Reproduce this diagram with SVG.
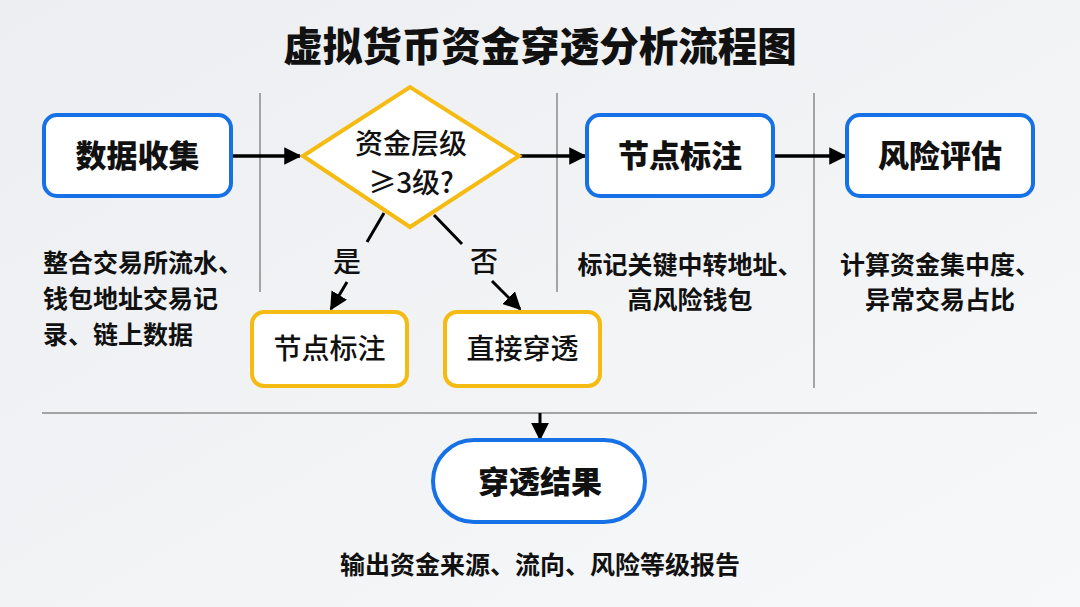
<svg xmlns="http://www.w3.org/2000/svg" width="1080" height="607" viewBox="0 0 1080 607">
<defs>
<linearGradient id="bg" x1="0" y1="0" x2="1" y2="1">
<stop offset="0" stop-color="#eceef1"/>
<stop offset="1" stop-color="#f7f8f9"/>
</linearGradient>
<marker id="ah" viewBox="0 0 10 10" refX="9" refY="5" markerWidth="5" markerHeight="5" markerUnits="strokeWidth" orient="auto">
<path d="M0,0 L10,5 L0,10 z" fill="#000"/>
</marker>
<marker id="ah2" viewBox="0 0 10 10" refX="9" refY="5" markerWidth="6" markerHeight="6" markerUnits="strokeWidth" orient="auto">
<path d="M0,0 L10,5 L0,10 z" fill="#000"/>
</marker>
</defs>
<style>
text{font-family:"Noto Sans CJK SC","Noto Sans",sans-serif;fill:#111;}
.title{font-size:39.5px;font-weight:900;}
.lbl{font-size:31px;font-weight:900;}
.lbl2{font-size:28px;font-weight:500;}
.desc{font-size:25px;font-weight:700;}
.blue{fill:#fff;stroke:#1670e6;stroke-width:4;}
.yel{fill:#fff;stroke:#f5bb12;stroke-width:4;}
.div{stroke:#8a8a8a;stroke-width:1.5;fill:none;}
.con{stroke:#000;stroke-width:3.5;fill:none;}
.con2{stroke:#000;stroke-width:3;fill:none;}
</style>
<rect width="1080" height="607" fill="url(#bg)"/>
<text class="title" x="540" y="61" text-anchor="middle">虚拟货币资金穿透分析流程图</text>

<g id="dividers">
<line class="div" x1="260" y1="93" x2="260" y2="292"/>
<line class="div" x1="557" y1="93" x2="557" y2="292"/>
<line class="div" x1="814" y1="93" x2="814" y2="388"/>
<line class="div" x1="42" y1="413" x2="1037" y2="413"/>
</g>

<g id="connectors">
<line class="con" x1="231" y1="156" x2="300" y2="156" marker-end="url(#ah)"/>
<line class="con" x1="520" y1="156" x2="585" y2="156" marker-end="url(#ah)"/>
<line class="con" x1="773" y1="156" x2="845" y2="156" marker-end="url(#ah)"/>
<line class="con2" x1="384" y1="213" x2="367" y2="242"/>
<line class="con2" x1="347" y1="282" x2="331" y2="309" marker-end="url(#ah2)"/>
<line class="con2" x1="434" y1="215" x2="462" y2="244"/>
<line class="con2" x1="492" y1="281" x2="520" y2="309" marker-end="url(#ah2)"/>
<line class="con2" x1="540" y1="413" x2="540" y2="439" marker-end="url(#ah2)"/>
<text class="lbl2" x="347" y="272" text-anchor="middle" font-size="27">是</text>
<text class="lbl2" x="484" y="272" text-anchor="middle" font-size="27">否</text>
</g>

<g id="n1">
<rect class="blue" x="44" y="115" width="187" height="81" rx="13"/>
<text class="lbl" x="137.5" y="167" text-anchor="middle">数据收集</text>
<text class="desc" x="43" y="272">整合交易所流水、</text>
<text class="desc" x="43" y="308">钱包地址交易记</text>
<text class="desc" x="43" y="344">录、链上数据</text>
</g>

<g id="n2">
<polygon class="yel" points="303,156 410,87 519,156 410,227" stroke-linejoin="miter"/>
<text class="lbl2" x="411" y="154" text-anchor="middle" font-size="26">资金层级</text>
<text class="lbl2" x="411" y="193" text-anchor="middle" font-size="26">≥3级?</text>
</g>

<g id="n3">
<rect class="blue" x="587" y="115" width="186" height="81" rx="13"/>
<text class="lbl" x="680" y="167" text-anchor="middle">节点标注</text>
<text class="desc" x="690" y="274" text-anchor="middle" font-size="24.5">标记关键中转地址、</text>
<text class="desc" x="690" y="309" text-anchor="middle" font-size="24.5">高风险钱包</text>
</g>

<g id="n4">
<rect class="blue" x="847" y="115" width="186" height="81" rx="13"/>
<text class="lbl" x="940" y="167" text-anchor="middle">风险评估</text>
<text class="desc" x="940" y="274" text-anchor="middle" font-size="24.5">计算资金集中度、</text>
<text class="desc" x="940" y="309" text-anchor="middle" font-size="24.5">异常交易占比</text>
</g>

<g id="n5">
<rect class="yel" x="252" y="312" width="155" height="74" rx="12"/>
<text class="lbl2" x="329.5" y="359" text-anchor="middle">节点标注</text>
</g>

<g id="n6">
<rect class="yel" x="445" y="312" width="155" height="74" rx="12"/>
<text class="lbl2" x="522.5" y="359" text-anchor="middle">直接穿透</text>
</g>

<g id="n7">
<rect class="blue" x="433" y="440" width="212" height="82" rx="41"/>
<text class="lbl" x="540" y="493" text-anchor="middle" font-size="31">穿透结果</text>
<text class="desc" x="540" y="574" text-anchor="middle" font-size="26.5">输出资金来源、流向、风险等级报告</text>
</g>
</svg>
